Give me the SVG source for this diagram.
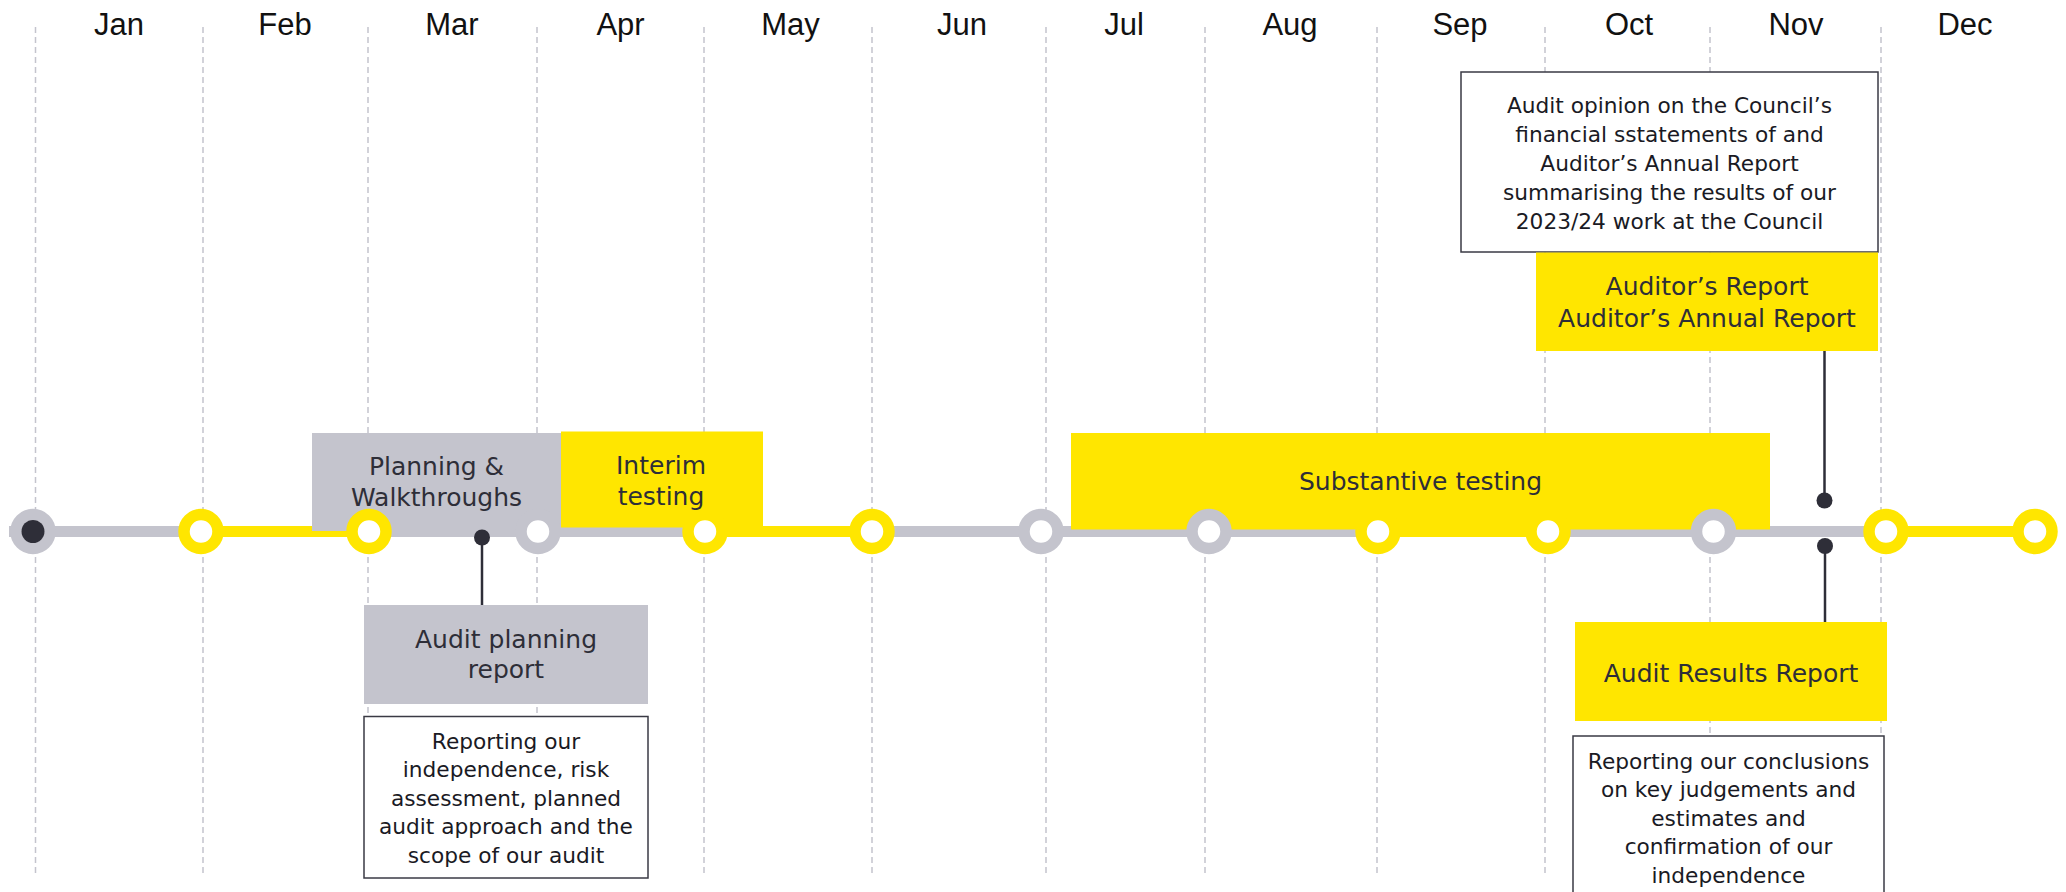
<svg xmlns="http://www.w3.org/2000/svg" width="2066" height="892" viewBox="0 0 2066 892">
<style>
.grid{stroke:#C4C4CD;stroke-width:1.5;stroke-dasharray:6 4;fill:none}
.month{font-family:"Liberation Sans",Arial,sans-serif;font-size:31px;fill:#111;text-anchor:middle}
.lbl{font-family:"DejaVu Sans","Open Sans",sans-serif;font-size:25px;fill:#2E2E38;text-anchor:middle}
.body{font-family:"DejaVu Sans","Open Sans",sans-serif;font-size:21.7px;fill:#1A1A24;text-anchor:middle}
.yel{fill:#FFE600}
.gry{fill:#C4C4CD}
.note{fill:#FFFFFF;stroke:#3A3A44;stroke-width:1.5}
.ringY{fill:#FFFFFF;stroke:#FFE600;stroke-width:11.5}
.ringG{fill:#FFFFFF;stroke:#C4C4CD;stroke-width:11.5}
.conn{stroke:#2E2E38;stroke-width:2.5;fill:none}
.dot{fill:#2E2E38}
</style>
<rect width="2066" height="892" fill="#FFFFFF"/>
<g id="grid">
<line class="grid" x1="35.5" y1="27" x2="35.5" y2="873"/>
<line class="grid" x1="203" y1="27" x2="203" y2="873"/>
<line class="grid" x1="368" y1="27" x2="368" y2="873"/>
<line class="grid" x1="537" y1="27" x2="537" y2="873"/>
<line class="grid" x1="704" y1="27" x2="704" y2="873"/>
<line class="grid" x1="872" y1="27" x2="872" y2="873"/>
<line class="grid" x1="1046" y1="27" x2="1046" y2="873"/>
<line class="grid" x1="1205" y1="27" x2="1205" y2="873"/>
<line class="grid" x1="1377" y1="27" x2="1377" y2="873"/>
<line class="grid" x1="1545" y1="27" x2="1545" y2="873"/>
<line class="grid" x1="1710" y1="27" x2="1710" y2="873"/>
<line class="grid" x1="1881" y1="27" x2="1881" y2="873"/>
</g>
<g id="months">
<text class="month" x="119" y="35">Jan</text>
<text class="month" x="285" y="35">Feb</text>
<text class="month" x="452" y="35">Mar</text>
<text class="month" x="620.5" y="35">Apr</text>
<text class="month" x="790.5" y="35">May</text>
<text class="month" x="962" y="35">Jun</text>
<text class="month" x="1124" y="35">Jul</text>
<text class="month" x="1290" y="35">Aug</text>
<text class="month" x="1460" y="35">Sep</text>
<text class="month" x="1629" y="35">Oct</text>
<text class="month" x="1796" y="35">Nov</text>
<text class="month" x="1965" y="35">Dec</text>
</g>
<g id="timeline-bar">
<rect class="gry" x="9" y="526" width="192" height="11"/>
<rect class="yel" x="201" y="526" width="168" height="11"/>
<rect class="gry" x="369" y="526" width="336" height="11"/>
<rect class="yel" x="705" y="526" width="167" height="11"/>
<rect class="gry" x="872" y="526" width="506" height="11"/>
<rect class="yel" x="1378" y="526" width="170" height="11"/>
<rect class="gry" x="1548" y="526" width="338" height="11"/>
<rect class="yel" x="1886" y="526" width="149" height="11"/>
</g>
<g id="planning-walkthroughs">
<rect class="gry" x="312" y="433" width="249" height="98"/>
<text class="lbl" x="436.5" y="475">Planning &amp;</text>
<text class="lbl" x="436.5" y="506">Walkthroughs</text>
</g>
<g id="interim-testing">
<rect class="yel" x="561" y="431.5" width="202" height="96"/>
<text class="lbl" x="661" y="474">Interim</text>
<text class="lbl" x="661" y="505">testing</text>
</g>
<g id="substantive-testing">
<rect class="yel" x="1071" y="433" width="699" height="96.5"/>
<text class="lbl" x="1420.5" y="490">Substantive testing</text>
</g>
<g id="opinion-note">
<rect class="note" x="1461" y="72" width="417" height="180"/>
<text class="body" x="1669.5" y="113">Audit opinion on the Council’s</text>
<text class="body" x="1669.5" y="142">financial sstatements of and</text>
<text class="body" x="1669.5" y="171">Auditor’s Annual Report</text>
<text class="body" x="1669.5" y="200">summarising the results of our</text>
<text class="body" x="1669.5" y="228.5">2023/24 work at the Council</text>
</g>
<g id="auditors-report">
<rect class="yel" x="1536" y="252.5" width="342" height="98.5"/>
<text class="lbl" x="1707" y="295">Auditor’s Report</text>
<text class="lbl" x="1707" y="326.5">Auditor’s Annual Report</text>
</g>
<g id="audit-planning-report">
<rect class="gry" x="364" y="605" width="284" height="99"/>
<text class="lbl" x="506" y="648">Audit planning</text>
<text class="lbl" x="506" y="678">report</text>
</g>
<g id="planning-note">
<rect class="note" x="364" y="716.5" width="284" height="161.5"/>
<text class="body" x="506" y="748.5">Reporting our</text>
<text class="body" x="506" y="777">independence, risk</text>
<text class="body" x="506" y="805.5">assessment, planned</text>
<text class="body" x="506" y="834">audit approach and the</text>
<text class="body" x="506" y="863">scope of our audit</text>
</g>
<g id="audit-results-report">
<rect class="yel" x="1575" y="622" width="312" height="99"/>
<text class="lbl" x="1731" y="681.5">Audit Results Report</text>
</g>
<g id="results-note">
<rect class="note" x="1573" y="736" width="311" height="170"/>
<text class="body" x="1728.5" y="768.5">Reporting our conclusions</text>
<text class="body" x="1728.5" y="797">on key judgements and</text>
<text class="body" x="1728.5" y="825.5">estimates and</text>
<text class="body" x="1728.5" y="854">confirmation of our</text>
<text class="body" x="1728.5" y="882.5">independence</text>
</g>
<g id="node-jan">
<circle class="ringG" cx="33" cy="531.5" r="17"/>
<circle class="dot" cx="33" cy="531.5" r="11.5"/>
</g>
<g id="node-feb"><circle class="ringY" cx="201" cy="531.5" r="17"/></g>
<g id="node-mar"><circle class="ringY" cx="369" cy="531.5" r="17"/></g>
<g id="node-apr"><circle class="ringG" cx="538" cy="531.5" r="17"/></g>
<g id="node-may"><circle class="ringY" cx="705" cy="531.5" r="17"/></g>
<g id="node-jun"><circle class="ringY" cx="872" cy="531.5" r="17"/></g>
<g id="node-jul"><circle class="ringG" cx="1041" cy="531.5" r="17"/></g>
<g id="node-aug"><circle class="ringG" cx="1209" cy="531.5" r="17"/></g>
<g id="node-sep"><circle class="ringY" cx="1378" cy="531.5" r="17"/></g>
<g id="node-oct"><circle class="ringY" cx="1548" cy="531.5" r="17"/></g>
<g id="node-nov"><circle class="ringG" cx="1713.5" cy="531.5" r="17"/></g>
<g id="node-dec"><circle class="ringY" cx="1886" cy="531.5" r="17"/></g>
<g id="node-end"><circle class="ringY" cx="2035" cy="531.5" r="17"/></g>
<g id="connectors">
<line class="conn" x1="482" y1="537.5" x2="482" y2="605"/>
<circle class="dot" cx="482" cy="537.5" r="8"/>
<line class="conn" x1="1824.5" y1="351" x2="1824.5" y2="500.5"/>
<circle class="dot" cx="1824.5" cy="500.5" r="8"/>
<line class="conn" x1="1825" y1="546" x2="1825" y2="622"/>
<circle class="dot" cx="1825" cy="546" r="8"/>
</g>
</svg>
